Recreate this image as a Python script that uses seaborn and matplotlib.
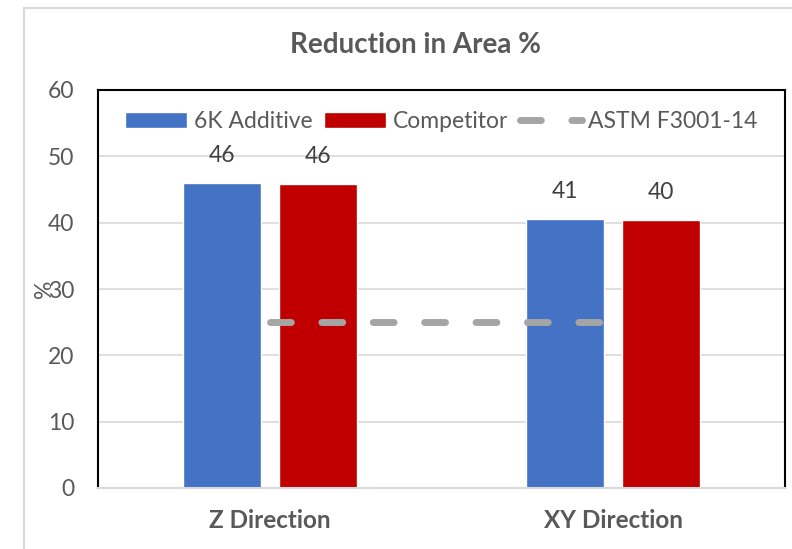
import matplotlib
matplotlib.use("Agg")
import matplotlib.pyplot as plt
import seaborn as sns
import pandas as pd
from matplotlib.patches import Rectangle

# data
directions = ["Z Direction", "XY Direction"]
additive = [46.0, 40.6]
competitor = [45.85, 40.45]
astm = [25, 25]
series = ["6K Additive", "Competitor"]

df = pd.DataFrame({
    "direction": directions * 2,
    "value": additive + competitor,
    "series": [series[0]] * 2 + [series[1]] * 2,
})
astm_df = pd.DataFrame({"direction": directions, "value": astm})

sns.set_style("white")
plt.rcParams["font.family"] = ["Lato", "DejaVu Sans"]

gray = "#595959"
fs = 16.5
fig = plt.figure(figsize=(7.92, 5.49), dpi=100)
ax = fig.add_axes([98 / 792, 61 / 549, 687 / 792, 398 / 549])

sns.barplot(data=df, x="direction", y="value", hue="series", ax=ax,
            palette=["#4472C4", "#C00000"], width=0.56, gap=0.19,
            saturation=1, errorbar=None)
sns.lineplot(data=astm_df, x="direction", y="value", ax=ax, color="#A5A5A5",
             lw=5, linestyle=(0, (3, 4.4)), dash_capstyle="round",
             label="ASTM F3001-14")

for c in ax.containers:
    ax.bar_label(c, fmt="%.0f", padding=12, fontsize=fs, color="#404040")

ax.set_ylim(0, 60)
ax.set_xlim(-0.5, 1.5)
ax.set_yticks(range(0, 61, 10))
ax.yaxis.grid(True, color="#D9D9D9", lw=1.2)
ax.set_axisbelow(True)
ax.tick_params(axis="y", length=0, pad=17, labelsize=fs, labelcolor=gray)
ax.tick_params(axis="x", length=0, pad=15, labelsize=17.5, labelcolor=gray)
for t in ax.get_xticklabels():
    t.set_fontweight("bold")
ax.set_xlabel("")
ax.set_ylabel("%", fontsize=fs, color=gray)
ax.yaxis.set_label_coords(-0.062, 0.5)

for s in ["left", "top", "right"]:
    ax.spines[s].set_color("black")
    ax.spines[s].set_linewidth(1.5)
ax.spines["bottom"].set_color("#D9D9D9")
ax.spines["bottom"].set_linewidth(1.5)

handles, labels = ax.get_legend_handles_labels()
ax.legend(handles, labels, loc="center", bbox_to_anchor=(0.5, 0.922),
          ncol=3, frameon=False, fontsize=fs, labelcolor=gray,
          handlelength=2.7, handleheight=0.7, handletextpad=0.3,
          columnspacing=0.5)

fig.text(0.524, 1 - 45 / 549, "Reduction in Area %", ha="center", va="center",
         fontsize=20, fontweight="bold", color=gray)

fig.patches.append(Rectangle((24 / 792, -0.05), 1.0, 1 - 8 / 549 + 0.05,
                             transform=fig.transFigure, fill=False,
                             edgecolor="#D9D9D9", lw=1.5, zorder=0))

fig.savefig("out.png", dpi=100)
